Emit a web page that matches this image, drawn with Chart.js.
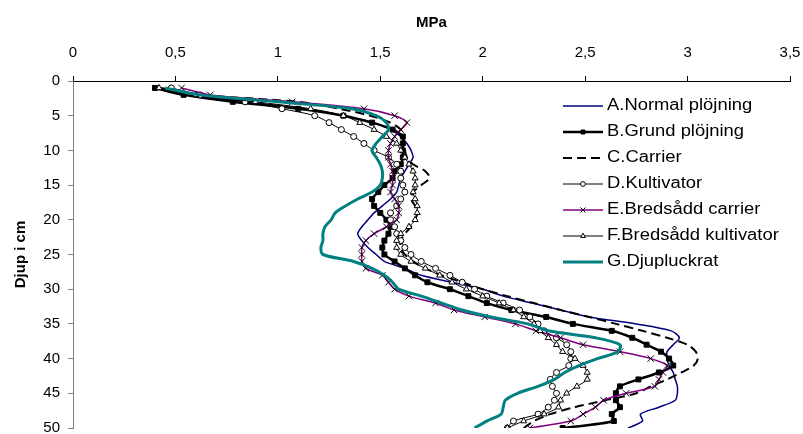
<!DOCTYPE html>
<html>
<head>
<meta charset="utf-8">
<script src="https://cdn.jsdelivr.net/npm/chart.js@4/dist/chart.umd.min.js"></script>
<style>
  html, body { margin: 0; padding: 0; background: #fff; }
</style>
</head>
<body>
<canvas id="chart" width="803" height="434"></canvas>
<script>
(function() {
  'use strict';
  // 深さ (cm)
  const depths = [1, 2, 3, 4, 5, 6, 7, 8, 9, 10,
    11, 12, 13, 14, 15, 16, 17, 18, 19, 20,
    21, 22, 23, 24, 25, 26, 27, 28, 29, 30,
    31, 32, 33, 34, 35, 36, 37, 38, 39, 40,
    41, 42, 43, 44, 45, 46, 47, 48, 49, 50];
  // 目盛ラベル
  const xTickLabels = ['0', '0,5', '1', '1,5', '2', '2,5', '3', '3,5'];
  const yTickLabels = ['0', '5', '10', '15', '20', '25', '30', '35', '40', '45', '50'];
  // 系列名
  const seriesNames = ['A.Normal plöjning', 'B.Grund plöjning', 'C.Carrier', 'D.Kultivator',
    'E.Bredsådd carrier', 'F.Bredsådd kultivator', 'G.Djupluckrat'];
  // 各系列 (MPa)
  const normalPlojning = [0.42, 0.55, 0.85, 1.12, 1.32, 1.47, 1.55, 1.6, 1.63, 1.65,
    1.66, 1.64, 1.62, 1.6, 1.59, 1.58, 1.55, 1.51, 1.47, 1.44,
    1.41, 1.39, 1.41, 1.44, 1.48, 1.52, 1.62, 1.7, 1.85, 2.0,
    2.1, 2.24, 2.38, 2.52, 2.75, 2.92, 2.96, 2.93, 2.9, 2.9,
    2.91, 2.93, 2.94, 2.95, 2.95, 2.94, 2.86, 2.77, 2.78, 2.71];
  const grundPlojning = [0.40, 0.54, 0.78, 1.1, 1.32, 1.46, 1.56, 1.61, 1.61, 1.61,
    1.61, 1.6, 1.57, 1.56, 1.52, 1.49, 1.46, 1.47, 1.5, 1.53,
    1.55, 1.54, 1.52, 1.51, 1.52, 1.57, 1.62, 1.67, 1.73, 1.84,
    1.93, 2.02, 2.14, 2.31, 2.44, 2.63, 2.73, 2.8, 2.87, 2.91,
    2.93, 2.86, 2.76, 2.67, 2.65, 2.65, 2.67, 2.63, 2.64, 2.39];
  const carrier = [0.43, 0.62, 1.1, 1.3, 1.45, 1.55, 1.6, 1.61, 1.61, 1.62,
    1.63, 1.66, 1.72, 1.74, 1.7, 1.66, 1.65, 1.67, 1.68, 1.67,
    1.65, 1.62, 1.6, 1.6, 1.62, 1.66, 1.72, 1.8, 1.9, 2.0,
    2.12, 2.25, 2.38, 2.52, 2.65, 2.78, 2.9, 3.0, 3.04, 3.05,
    3.03, 2.97, 2.9, 2.82, 2.75, 2.6, 2.45, 2.33, 2.25, 2.2];
  const kultivator = [0.48, 0.62, 0.84, 1.02, 1.18, 1.25, 1.31, 1.37, 1.42, 1.47,
    1.54, 1.58, 1.6, 1.6, 1.61, 1.62, 1.6, 1.58, 1.55, 1.55,
    1.57, 1.58, 1.6, 1.62, 1.65, 1.7, 1.77, 1.84, 1.9, 1.96,
    2.02, 2.1, 2.18, 2.23, 2.27, 2.3, 2.36, 2.41, 2.43, 2.43,
    2.42, 2.36, 2.33, 2.34, 2.36, 2.35, 2.32, 2.27, 2.15, 2.12];
  const bredsaddCarrier = [0.53, 0.67, 1.07, 1.42, 1.57, 1.63, 1.6, 1.57, 1.55, 1.54,
    1.54, 1.55, 1.56, 1.56, 1.56, 1.55, 1.57, 1.59, 1.59, 1.58,
    1.53, 1.47, 1.43, 1.41, 1.41, 1.41, 1.43, 1.51, 1.54, 1.57,
    1.64, 1.77, 1.86, 2.01, 2.16, 2.26, 2.38, 2.49, 2.67, 2.82,
    2.9, 2.88, 2.86, 2.84, 2.7, 2.59, 2.55, 2.49, 2.43, 2.23];
  const bredsaddKultivator = [0.42, 0.6, 0.89, 1.16, 1.32, 1.4, 1.47, 1.53, 1.58, 1.6,
    1.62, 1.64, 1.66, 1.67, 1.67, 1.66, 1.67, 1.68, 1.68, 1.67,
    1.64, 1.6, 1.58, 1.58, 1.6, 1.65, 1.72, 1.79, 1.85, 1.92,
    2.0, 2.08, 2.15, 2.2, 2.25, 2.28, 2.32, 2.36, 2.39, 2.45,
    2.49, 2.51, 2.51, 2.46, 2.41, 2.38, 2.37, 2.3, 2.2, 2.12];
  const djupluckrat = [0.45, 0.62, 1.0, 1.36, 1.48, 1.53, 1.54, 1.51, 1.48, 1.46,
    1.48, 1.5, 1.51, 1.51, 1.5, 1.46, 1.39, 1.33, 1.28, 1.26,
    1.23, 1.22, 1.22, 1.21, 1.22, 1.37, 1.46, 1.52, 1.56, 1.59,
    1.7, 1.8, 1.9, 2.04, 2.22, 2.32, 2.55, 2.67, 2.66, 2.56,
    2.47, 2.4, 2.35, 2.27, 2.17, 2.11, 2.1, 2.09, 2.02, 1.96];

  const fontFamily = 'Arial, "Liberation Sans", sans-serif';

  // 深さと値を組み合わせる
  function toPoints(values) {
    return values.map(function(v, i) {
      return { x: v, y: depths[i] };
    });
  }

  function makeDataset(label, values, style, order) {
    return Object.assign({
      label: label,
      data: toPoints(values),
      showLine: true,
      tension: 0.3,
      fill: false,
      pointRadius: 0,
      pointHoverRadius: 0,
      order: order,
    }, style);
  }

  const datasets = [
    makeDataset(seriesNames[0], normalPlojning, {
      borderColor: '#000080', borderWidth: 1.5,
    }, 7),
    makeDataset(seriesNames[1], grundPlojning, {
      borderColor: '#000000', borderWidth: 2.5,
      pointStyle: 'rect', pointRadius: 3.5,
      pointBackgroundColor: '#000000', pointBorderColor: '#000000', pointBorderWidth: 1,
    }, 6),
    makeDataset(seriesNames[2], carrier, {
      borderColor: '#000000', borderWidth: 2, borderDash: [9, 5],
    }, 5),
    makeDataset(seriesNames[3], kultivator, {
      borderColor: '#000000', borderWidth: 1,
      pointStyle: 'circle', pointRadius: 3,
      pointBackgroundColor: '#ffffff', pointBorderColor: '#000000', pointBorderWidth: 1,
    }, 4),
    makeDataset(seriesNames[4], bredsaddCarrier, {
      borderColor: '#800080', borderWidth: 1.5,
      pointStyle: 'crossRot', pointRadius: 4.5,
      pointBackgroundColor: '#000000', pointBorderColor: '#000000', pointBorderWidth: 1,
    }, 3),
    makeDataset(seriesNames[5], bredsaddKultivator, {
      borderColor: '#000000', borderWidth: 1,
      pointStyle: 'triangle', pointRadius: 3.5,
      pointBackgroundColor: '#ffffff', pointBorderColor: '#000000', pointBorderWidth: 1,
    }, 2),
    makeDataset(seriesNames[6], djupluckrat, {
      borderColor: '#008080', borderWidth: 3,
    }, 1),
  ];

  // 凡例 (グラフ内右側)
  const legendBox = { lineX1: 563, lineX2: 603, textX: 607, top: 106, step: 26 };
  const insideLegend = {
    id: 'insideLegend',
    afterDraw: function(chart) {
      const ctx = chart.ctx;
      chart.data.datasets.forEach(function(ds, i) {
        const y = legendBox.top + i * legendBox.step;
        ctx.save();
        ctx.strokeStyle = ds.borderColor;
        ctx.lineWidth = ds.borderWidth;
        ctx.setLineDash(ds.borderDash || []);
        ctx.beginPath();
        ctx.moveTo(legendBox.lineX1, y);
        ctx.lineTo(legendBox.lineX2, y);
        ctx.stroke();
        ctx.setLineDash([]);
        if (ds.pointRadius > 0 && Chart.helpers && Chart.helpers.drawPoint) {
          ctx.fillStyle = ds.pointBackgroundColor;
          ctx.strokeStyle = ds.pointBorderColor;
          ctx.lineWidth = 1;
          Chart.helpers.drawPoint(ctx, {
            pointStyle: ds.pointStyle, radius: ds.pointRadius * 0.8, borderWidth: 1, rotation: 0,
          }, (legendBox.lineX1 + legendBox.lineX2) / 2, y);
        }
        ctx.translate(legendBox.textX, y);
        ctx.scale(1.15, 1);
        ctx.fillStyle = '#000000';
        ctx.font = '16px ' + fontFamily;
        ctx.textBaseline = 'middle';
        ctx.textAlign = 'left';
        ctx.fillText(ds.label, 0, 0);
        ctx.restore();
      });
    }
  };

  new Chart(document.getElementById('chart').getContext('2d'), {
    type: 'scatter',
    data: { datasets: datasets },
    plugins: [insideLegend],
    options: {
      responsive: false,
      animation: false,
      layout: { padding: { top: 0, left: 0, right: 13, bottom: 6 } },
      plugins: {
        legend: { display: false },
        tooltip: { enabled: false },
      },
      scales: {
        x: {
          type: 'linear',
          position: 'top',
          min: 0,
          max: 3.5,
          afterFit: function(scale) {
            scale.height = 81;
            scale.paddingLeft = 0;
            scale.paddingRight = 0;
          },
          ticks: {
            stepSize: 0.5,
            color: '#000000',
            padding: 14,
            maxRotation: 0,
            font: { family: fontFamily, size: 15 },
            callback: function(v) { return xTickLabels[Math.round(v / 0.5)]; },
          },
          grid: { drawOnChartArea: false, drawTicks: true, tickLength: 5, color: '#000000' },
          border: { color: '#000000', width: 1 },
          title: {
            display: true,
            text: 'MPa',
            color: '#000000',
            font: { family: fontFamily, size: 15, weight: 'bold' },
            padding: { top: 14, bottom: 0 },
          },
        },
        y: {
          type: 'linear',
          reverse: true,
          min: 0,
          max: 50,
          afterFit: function(scale) {
            scale.width = 73;
            scale.paddingTop = 0;
            scale.paddingBottom = 0;
          },
          ticks: {
            stepSize: 5,
            color: '#000000',
            padding: 8,
            font: { family: fontFamily, size: 15 },
            callback: function(v) { return yTickLabels[Math.round(v / 5)]; },
          },
          grid: { drawOnChartArea: false, drawTicks: true, tickLength: 5, color: '#808080' },
          border: { color: '#808080', width: 1 },
          title: {
            display: true,
            text: 'Djup i cm',
            color: '#000000',
            font: { family: fontFamily, size: 15, weight: 'bold' },
            padding: { top: 12, bottom: 0 },
          },
        },
      },
    },
  });
})();
</script>
</body>
</html>
